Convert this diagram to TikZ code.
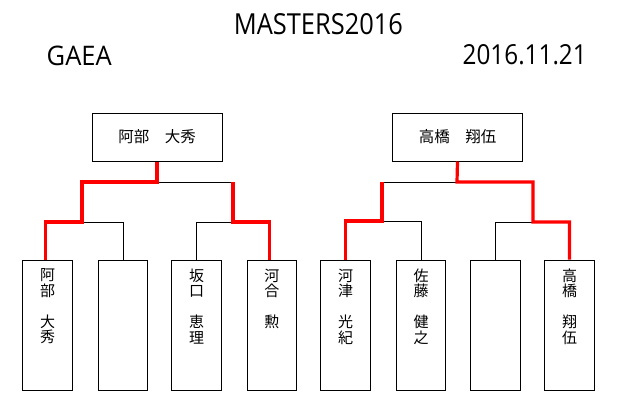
\documentclass[tikz,border=0pt]{standalone}
\usepackage{graphicx}
\usepackage{fontspec}
\newfontfamily\cjk{Noto Sans CJK JP}
\newfontfamily\lat{Open Sans}
\begin{document}
\begin{tikzpicture}[x=1pt,y=-1pt,
  tbox/.style={draw=black,line width=1pt,minimum width=130pt,minimum height=48pt,inner sep=0pt,font=\cjk\fontsize{15.5}{16}\selectfont},
  pbox/.style={draw=black,line width=1pt,minimum width=49.6pt,minimum height=130pt,inner sep=0pt},
  ptext/.style={anchor=north,align=center,inner sep=0pt,font=\cjk\fontsize{15}{15.5}\selectfont},
  hd/.style={inner sep=0pt,font=\lat},
  bk/.style={draw=black,line width=1pt},
  rd/.style={draw=red,line width=3.2pt}
]
\useasboundingbox[fill=white] (0,0) rectangle (620,400);

% header
\node[hd] (title) at (318.4,24.5) {\resizebox{169pt}{21pt}{MASTERS2016}};
\node[hd] (org) at (79.2,55.5) {\resizebox{65pt}{19.5pt}{GAEA}};
\node[hd] (date) at (524.7,55) {\resizebox{124pt}{20pt}{2016.11.21}};

% winners
\node[tbox] (topL) at (157,137) {阿部　大秀};
\node[tbox,minimum width=129.6pt] (topR) at (457.5,137) {高橋　翔伍};

% players
\node[pbox] (b1) at (47.5,325) {};
\node[pbox] (b2) at (123,325) {};
\node[pbox] (b3) at (196.5,325) {};
\node[pbox] (b4) at (271.8,325) {};
\node[pbox] (b5) at (345.5,325) {};
\node[pbox] (b6) at (421,325) {};
\node[pbox] (b7) at (495.5,325) {};
\node[pbox] (b8) at (569.5,325) {};

\node[ptext] (t1) at ([yshift=-9pt]b1.north) {阿\\部\\\mbox{}\\大\\秀};
\node[ptext] (t3) at ([yshift=-9pt]b3.north) {坂\\口\\\mbox{}\\恵\\理};
\node[ptext] (t4) at ([yshift=-9pt]b4.north) {河\\合\\\mbox{}\\勲};
\node[ptext] (t5) at ([yshift=-9pt]b5.north) {河\\津\\\mbox{}\\光\\紀};
\node[ptext] (t6) at ([yshift=-9pt]b6.north) {佐\\藤\\\mbox{}\\健\\之};
\node[ptext] (t8) at ([yshift=-9pt]b8.north) {高\\橋\\\mbox{}\\翔\\伍};

% junctions
\coordinate (jL) at (157,182);
\coordinate (jLa) at (82,182);
\coordinate (jLb) at (233,182);
\coordinate (jLa2) at (82,222);
\coordinate (jLb2) at (233,222);
\coordinate (jR) at (457,182);
\coordinate (jRa) at (382,182);
\coordinate (jRb) at (533,182);
\coordinate (jRa2) at (382,221);
\coordinate (jRb2) at (533,222);

% black bracket lines
\draw[bk] (jL) -- (jLb);
\draw[bk] (jLa2) -| (b2.north);
\draw[bk] (jLb2) -| (b3.north);
\draw[bk] (jR) -- (jRa);
\draw[bk] (jRa2) -| (b6.north);
\draw[bk] (jRb2) -| (b7.north);

% red winning paths
\draw[rd] (topL.south) -- (jL) -- (jLa) -- (jLa2) -| ([xshift=-2pt]b1.north);
\draw[rd] (jLb) -- (jLb2) -| ([xshift=-2.5pt]b4.north);
\draw[rd] (topR.south) -- (jR) -- (jRb) -- (jRb2) -| (b8.north);
\draw[rd] (jRa) -- (jRa2) -| (b5.north);
\end{tikzpicture}
\end{document}
